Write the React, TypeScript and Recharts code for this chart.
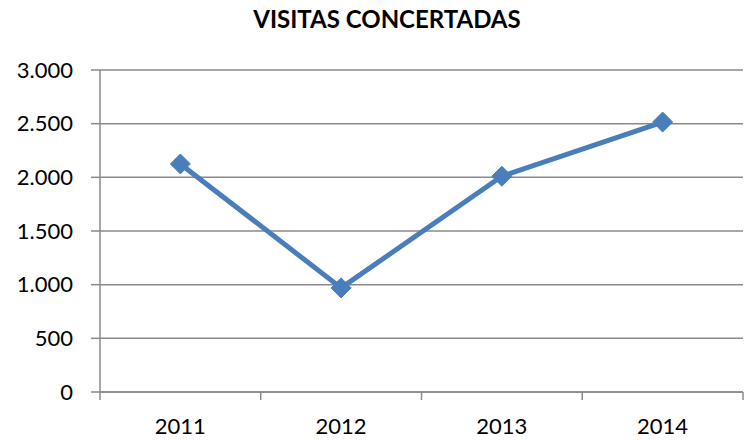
import { LineChart, Line, XAxis, YAxis, CartesianGrid } from 'recharts';

const years = ['2011', '2012', '2013', '2014'];
const visitas = [2125, 970, 2010, 2515];
const yTicks = [0, 500, 1000, 1500, 2000, 2500, 3000];

const data = years.map((year, i) => ({ year, visitas: visitas[i] }));

const W = 746;
const H = 441;
const FONT = 'Lato, "Open Sans", sans-serif';
const BLUE = '#4a7ebb';
const GRAY = '#8a8a8a';
const BAND = (743 - 100) / years.length;

const fmt = (v: number) => v.toLocaleString('de-DE');

function Diamond(props: any) {
  const { cx, cy } = props;
  if (cx == null || cy == null) return null;
  const r = 10;
  return (
    <path
      d={`M${cx},${cy - r} L${cx + r},${cy} L${cx},${cy + r} L${cx - r},${cy} Z`}
      fill={BLUE}
      stroke={BLUE}
    />
  );
}

function YearTick(props: any) {
  const { x, y, payload, index } = props;
  const axisY = y - 8;
  return (
    <g>
      <line x1={x - BAND / 2} y1={axisY} x2={x - BAND / 2} y2={axisY + 8} stroke={GRAY} strokeWidth={1.5} />
      {index === years.length - 1 && (
        <line x1={x + BAND / 2} y1={axisY} x2={x + BAND / 2} y2={axisY + 8} stroke={GRAY} strokeWidth={1.5} />
      )}
      <text x={x} y={axisY + 42} textAnchor="middle" fontSize={22} fill="#000" fontFamily={FONT}>
        {payload.value}
      </text>
    </g>
  );
}

export default function App() {
  return (
    <div style={{ position: 'absolute', left: 0, top: 0, width: W, height: H, background: '#fff' }}>
      <div
        style={{
          position: 'absolute',
          left: 0,
          top: 4,
          width: 774,
          textAlign: 'center',
          fontFamily: FONT,
          fontWeight: 700,
          fontSize: 24,
          color: '#000',
        }}
      >
        VISITAS CONCERTADAS
      </div>
      <LineChart width={W} height={H} data={data} margin={{ top: 70, right: 3, left: 0, bottom: 0 }}>
        <CartesianGrid vertical={false} stroke={GRAY} strokeWidth={1.5} />
        <XAxis
          dataKey="year"
          height={49}
          padding={{ left: BAND / 2, right: BAND / 2 }}
          axisLine={{ stroke: GRAY, strokeWidth: 1.5 }}
          tickLine={false}
          tick={<YearTick />}
          interval={0}
        />
        <YAxis
          width={100}
          domain={[0, 3000]}
          ticks={yTicks}
          tickFormatter={fmt}
          axisLine={{ stroke: GRAY, strokeWidth: 1.5 }}
          tickLine={{ stroke: GRAY, strokeWidth: 1.5 }}
          tickSize={9}
          tickMargin={18}
          tick={{ fontSize: 22, fill: '#000', fontFamily: FONT }}
          interval={0}
        />
        <Line
          type="linear"
          dataKey="visitas"
          stroke={BLUE}
          strokeWidth={5}
          dot={<Diamond />}
          activeDot={false}
          isAnimationActive={false}
        />
      </LineChart>
    </div>
  );
}
